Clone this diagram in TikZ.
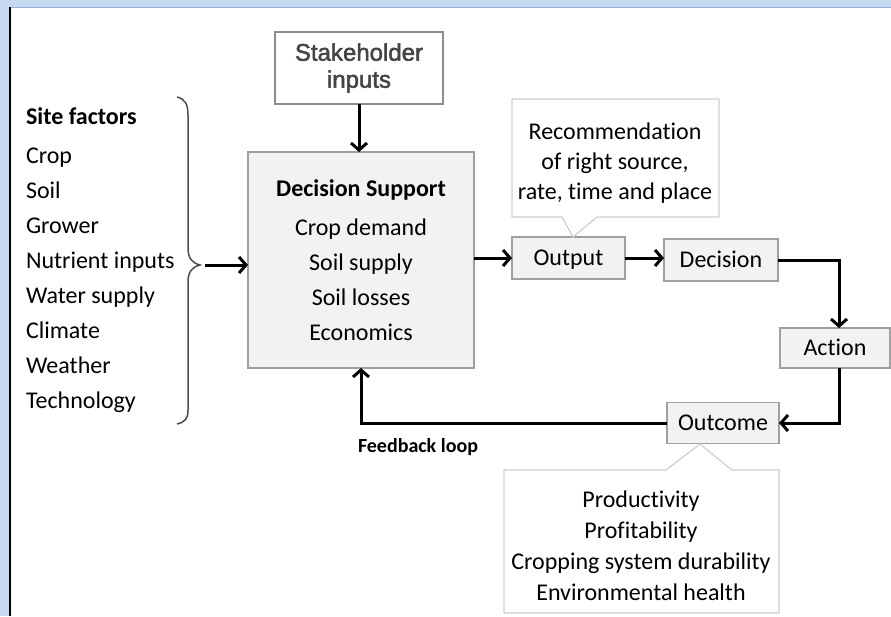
\documentclass[tikz,border=0pt]{standalone}
\usepackage{fontspec}
\setmainfont{Carlito}[Ligatures=NoCommon]
\newfontfamily\arialf{Liberation Sans}[FakeBold=2]
\usetikzlibrary{arrows.meta}
\definecolor{bgblue}{HTML}{C6D9F1}
\definecolor{edgeblue}{HTML}{95B3D7}
\definecolor{boxfill}{HTML}{F2F2F2}
\definecolor{boxline}{HTML}{A0A0A0}
\definecolor{callline}{HTML}{CFCFCF}
\definecolor{stakegray}{HTML}{444444}
\begin{document}
\begin{tikzpicture}[x=1pt,y=-1pt,
  every node/.style={inner sep=0pt, outer sep=0pt},
  flowbox/.style={draw=boxline, fill=boxfill, line width=1.5pt, minimum height=42pt,
                  text height=15.5pt, text depth=0pt, font=\fontsize{24}{30}\selectfont},
  callout/.style={draw=callline, fill=white, line width=1.2pt},
  calltext/.style={align=center, font=\fontsize{24}{30}\selectfont},
  arr/.style={line width=3pt, -{Straight Barb[length=7pt,width=16pt]}},
  bracestyle/.style={draw=black!70, line width=1.5pt}
]
\useasboundingbox (0,0) rectangle (891,616);
% frame
\fill[bgblue] (0,0) rectangle (891,616);
\fill[white] (10,7) rectangle (891,616);
\draw[edgeblue, line width=1pt] (10,7) -- (891,7);
\draw[black, line width=1.8pt] (10,7) -- (10,616);

% stakeholder
\node[draw=black!45, fill=white, line width=1.5pt, minimum width=168pt, minimum height=72pt,
      align=center, font=\arialf\fontsize{24}{27}\selectfont, text=stakegray] (stake) at (359,68) {Stakeholder\\inputs};

% decision support
\node[draw=boxline, fill=boxfill, line width=1.5pt, minimum width=226pt, minimum height=216pt,
      align=center, font=\fontsize{24}{35}\selectfont] (ds) at (361,260)
  {\textbf{Decision Support}\\[4pt] Crop demand\\ Soil supply\\ Soil losses\\ Economics};

% site factors
\node[anchor=west, align=left, font=\fontsize{24}{35}\selectfont] (site) at (26,260)
  {\textbf{Site factors}\\[4pt] Crop\\ Soil\\ Grower\\ Nutrient inputs\\ Water supply\\ Climate\\ Weather\\ Technology};

% brace
\draw[bracestyle] (177,97) .. controls (185,99) and (188,104) .. (188,115) -- (188,248)
  .. controls (188,258) and (192,263) .. (200,265) .. controls (192,267) and (188,272) .. (188,282)
  -- (188,410) .. controls (188,419) and (185,422) .. (177,424);
\coordinate (bt) at (205,265);

% flow boxes
\node[flowbox, minimum width=113pt] (output) at (568.5,258) {Output};
\node[flowbox, minimum width=114pt] (decision) at (721,260) {Decision};
\node[flowbox, minimum width=110pt, minimum height=40pt] (action) at (835,348) {Action};
\node[flowbox, minimum width=112pt, minimum height=41pt] (outcome) at (723,423) {Outcome};

% callouts
\draw[callout] (512,99) -- (719,99) -- (719,217) -- (597,217) -- (573,237) -- (562,217) -- (512,217) -- cycle;
\node[calltext] (rec) at (615,163) {Recommendation\\of right source,\\rate, time and place};

\draw[callout] (504,470) -- (666,470) -- (700,444) -- (732,470) -- (779,470) -- (779,613) -- (504,613) -- cycle;
\node[calltext, font=\fontsize{24}{31}\selectfont] (res) at (641,546)
  {Productivity\\Profitability\\Cropping system durability\\Environmental health};

% feedback label
\node[anchor=west, font=\bfseries\fontsize{20}{24}\selectfont] (fb) at (358,447) {Feedback loop};

% connectors
\draw[arr] (stake.south) -- (stake.south |- ds.north);
\draw[arr] (bt) -- (bt -| ds.west);
\draw[arr] (ds.east |- output.west) -- (output.west);
\draw[arr] (output.east) -- (output.east -| decision.west);
\draw[arr] (decision.east) -| ([xshift=4pt]action.north);
\draw[arr] ([xshift=4pt]action.south) |- (outcome.east);
\draw[arr] (outcome.west) -| (ds.south);
\end{tikzpicture}
\end{document}
